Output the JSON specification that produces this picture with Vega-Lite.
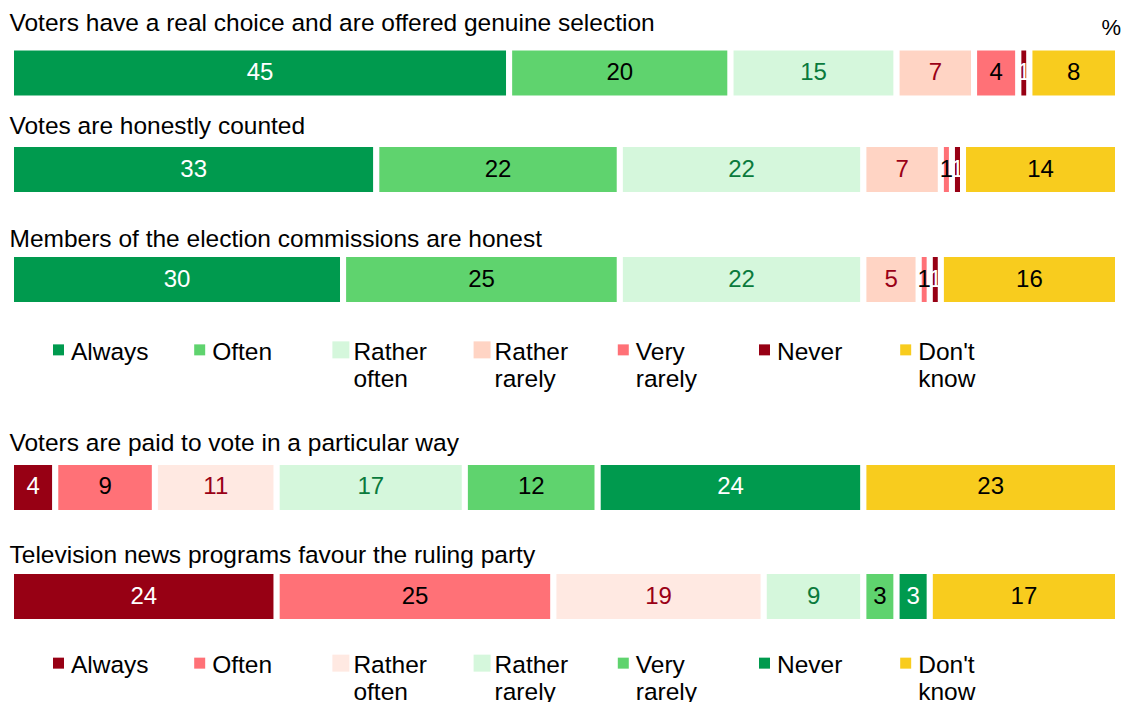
{
  "$schema": "https://vega.github.io/schema/vega-lite/v6.json",
  "background": "white",
  "padding": {"left": 8, "top": 10, "right": 0, "bottom": 0},
  "spacing": 0,
  "title": {"text": "%", "anchor": "end", "offset": -29.5, "dx": 0, "fontSize": 22},
  "config": {
    "font": "Liberation Sans",
    "view": {"stroke": null},
    "title": {"anchor": "start", "fontSize": 24.5, "fontWeight": "normal", "color": "#000000", "offset": 0, "dx": 1.5}
  },
  "resolve": {"scale": {"color": "independent", "x": "independent", "y": "independent"}},
  "datasets": {
    "bars": [
      {"q": "Voters have a real choice and are offered genuine selection", "cat": "Always", "v": 45, "i": 1},
      {"q": "Voters have a real choice and are offered genuine selection", "cat": "Often", "v": 20, "i": 2},
      {"q": "Voters have a real choice and are offered genuine selection", "cat": "Rather often", "v": 15, "i": 3},
      {"q": "Voters have a real choice and are offered genuine selection", "cat": "Rather rarely", "v": 7, "i": 4},
      {"q": "Voters have a real choice and are offered genuine selection", "cat": "Very rarely", "v": 4, "i": 5},
      {"q": "Voters have a real choice and are offered genuine selection", "cat": "Never", "v": 1, "i": 6},
      {"q": "Voters have a real choice and are offered genuine selection", "cat": "Don't know", "v": 8, "i": 7},
      {"q": "Votes are honestly counted", "cat": "Always", "v": 33, "i": 1},
      {"q": "Votes are honestly counted", "cat": "Often", "v": 22, "i": 2},
      {"q": "Votes are honestly counted", "cat": "Rather often", "v": 22, "i": 3},
      {"q": "Votes are honestly counted", "cat": "Rather rarely", "v": 7, "i": 4},
      {"q": "Votes are honestly counted", "cat": "Very rarely", "v": 1, "i": 5},
      {"q": "Votes are honestly counted", "cat": "Never", "v": 1, "i": 6},
      {"q": "Votes are honestly counted", "cat": "Don't know", "v": 14, "i": 7},
      {"q": "Members of the election commissions are honest", "cat": "Always", "v": 30, "i": 1},
      {"q": "Members of the election commissions are honest", "cat": "Often", "v": 25, "i": 2},
      {"q": "Members of the election commissions are honest", "cat": "Rather often", "v": 22, "i": 3},
      {"q": "Members of the election commissions are honest", "cat": "Rather rarely", "v": 5, "i": 4},
      {"q": "Members of the election commissions are honest", "cat": "Very rarely", "v": 1, "i": 5},
      {"q": "Members of the election commissions are honest", "cat": "Never", "v": 1, "i": 6},
      {"q": "Members of the election commissions are honest", "cat": "Don't know", "v": 16, "i": 7},
      {"q": "Voters are paid to vote in a particular way", "cat": "Always", "v": 4, "i": 1},
      {"q": "Voters are paid to vote in a particular way", "cat": "Often", "v": 9, "i": 2},
      {"q": "Voters are paid to vote in a particular way", "cat": "Rather often", "v": 11, "i": 3},
      {"q": "Voters are paid to vote in a particular way", "cat": "Rather rarely", "v": 17, "i": 4},
      {"q": "Voters are paid to vote in a particular way", "cat": "Very rarely", "v": 12, "i": 5},
      {"q": "Voters are paid to vote in a particular way", "cat": "Never", "v": 24, "i": 6},
      {"q": "Voters are paid to vote in a particular way", "cat": "Don't know", "v": 23, "i": 7},
      {"q": "Television news programs favour the ruling party", "cat": "Always", "v": 24, "i": 1},
      {"q": "Television news programs favour the ruling party", "cat": "Often", "v": 25, "i": 2},
      {"q": "Television news programs favour the ruling party", "cat": "Rather often", "v": 19, "i": 3},
      {"q": "Television news programs favour the ruling party", "cat": "Rather rarely", "v": 9, "i": 4},
      {"q": "Television news programs favour the ruling party", "cat": "Very rarely", "v": 3, "i": 5},
      {"q": "Television news programs favour the ruling party", "cat": "Never", "v": 3, "i": 6},
      {"q": "Television news programs favour the ruling party", "cat": "Don't know", "v": 17, "i": 7}
    ],
    "leg": [
      {"cat": "Always"}, {"cat": "Often"}, {"cat": "Rather often"}, {"cat": "Rather rarely"},
      {"cat": "Very rarely"}, {"cat": "Never"}, {"cat": "Don't know"}
    ]
  },
  "vconcat": [
    {
      "title": {"text": "Voters have a real choice and are offered genuine selection", "offset": 0},
      "width": 1107, "height": 78,
      "data": {"name": "bars"},
      "transform": [
        {"filter": {"field": "q", "equal": "Voters have a real choice and are offered genuine selection"}},
        {"stack": "v", "groupby": ["q"], "sort": [{"field": "i", "order": "ascending"}], "as": ["x0", "x1"]},
        {"calculate": "(datum.x0 + datum.x1) / 2", "as": "xm"}
      ],
      "encoding": {"y": {"field": "q", "type": "nominal", "axis": null, "scale": {"paddingInner": 0, "paddingOuter": 0.2647, "align": 0.426}}},
      "layer": [
        {"mark": {"type": "bar", "stroke": "white", "strokeWidth": 6},
         "encoding": {
           "x": {"field": "x0", "type": "quantitative", "axis": null, "scale": {"domain": [0, 100], "nice": false}},
           "x2": {"field": "x1"},
           "color": {"field": "cat", "type": "nominal", "legend": null, "scale": {"domain": ["Always", "Often", "Rather often", "Rather rarely", "Very rarely", "Never", "Don't know"], "range": ["#009A4E", "#5FD36E", "#D5F7DC", "#FFD4C4", "#FF7177", "#970014", "#F8CC1E"]}}}},
        {"mark": {"type": "text", "fontSize": 24, "baseline": "middle", "align": "center"},
         "encoding": {
           "x": {"field": "xm", "type": "quantitative"},
           "text": {"field": "v"},
           "color": {"condition": [
             {"test": "datum.cat === 'Always' || datum.cat === 'Never'", "value": "#ffffff"},
             {"test": "datum.cat === 'Rather often'", "value": "#0A7A3C"},
             {"test": "datum.cat === 'Rather rarely'", "value": "#9A0016"}], "value": "#000000"}}}
      ]
    },
    {
      "title": {"text": "Votes are honestly counted", "offset": 1.5},
      "width": 1107, "height": 84.5,
      "data": {"name": "bars"},
      "transform": [
        {"filter": {"field": "q", "equal": "Votes are honestly counted"}},
        {"stack": "v", "groupby": ["q"], "sort": [{"field": "i", "order": "ascending"}], "as": ["x0", "x1"]},
        {"calculate": "(datum.x0 + datum.x1) / 2", "as": "xm"}
      ],
      "encoding": {"y": {"field": "q", "type": "nominal", "axis": null, "scale": {"paddingInner": 0, "paddingOuter": 0.3284, "align": 0.0896}}},
      "layer": [
        {"mark": {"type": "bar", "stroke": "white", "strokeWidth": 6},
         "encoding": {
           "x": {"field": "x0", "type": "quantitative", "axis": null, "scale": {"domain": [0, 100], "nice": false}},
           "x2": {"field": "x1"},
           "color": {"field": "cat", "type": "nominal", "legend": null, "scale": {"domain": ["Always", "Often", "Rather often", "Rather rarely", "Very rarely", "Never", "Don't know"], "range": ["#009A4E", "#5FD36E", "#D5F7DC", "#FFD4C4", "#FF7177", "#970014", "#F8CC1E"]}}}},
        {"mark": {"type": "text", "fontSize": 24, "baseline": "middle", "align": "center"},
         "encoding": {
           "x": {"field": "xm", "type": "quantitative"},
           "text": {"field": "v"},
           "color": {"condition": [
             {"test": "datum.cat === 'Always' || datum.cat === 'Never'", "value": "#ffffff"},
             {"test": "datum.cat === 'Rather often'", "value": "#0A7A3C"},
             {"test": "datum.cat === 'Rather rarely'", "value": "#9A0016"}], "value": "#000000"}}}
      ]
    },
    {
      "title": {"text": "Members of the election commissions are honest", "offset": -1.5},
      "width": 1107, "height": 57,
      "data": {"name": "bars"},
      "transform": [
        {"filter": {"field": "q", "equal": "Members of the election commissions are honest"}},
        {"stack": "v", "groupby": ["q"], "sort": [{"field": "i", "order": "ascending"}], "as": ["x0", "x1"]},
        {"calculate": "(datum.x0 + datum.x1) / 2", "as": "xm"}
      ],
      "encoding": {"y": {"field": "q", "type": "nominal", "axis": null, "scale": {"paddingInner": 0, "paddingOuter": 0.0588, "align": 0.5}}},
      "layer": [
        {"mark": {"type": "bar", "stroke": "white", "strokeWidth": 6},
         "encoding": {
           "x": {"field": "x0", "type": "quantitative", "axis": null, "scale": {"domain": [0, 100], "nice": false}},
           "x2": {"field": "x1"},
           "color": {"field": "cat", "type": "nominal", "legend": null, "scale": {"domain": ["Always", "Often", "Rather often", "Rather rarely", "Very rarely", "Never", "Don't know"], "range": ["#009A4E", "#5FD36E", "#D5F7DC", "#FFD4C4", "#FF7177", "#970014", "#F8CC1E"]}}}},
        {"mark": {"type": "text", "fontSize": 24, "baseline": "middle", "align": "center"},
         "encoding": {
           "x": {"field": "xm", "type": "quantitative"},
           "text": {"field": "v"},
           "color": {"condition": [
             {"test": "datum.cat === 'Always' || datum.cat === 'Never'", "value": "#ffffff"},
             {"test": "datum.cat === 'Rather often'", "value": "#0A7A3C"},
             {"test": "datum.cat === 'Rather rarely'", "value": "#9A0016"}], "value": "#000000"}}}
      ]
    },
    {
      "width": 1107, "height": 120.5,
      "data": {"name": "leg"},
      "encoding": {
        "x": {"field": "cat", "type": "nominal", "axis": null, "sort": ["Always", "Often", "Rather often", "Rather rarely", "Very rarely", "Never", "Don't know"], "scale": {"type": "point", "padding": 0.92, "align": 0.1828}},
        "y": {"datum": "k", "type": "nominal", "axis": null, "scale": {"type": "band", "paddingInner": 0, "paddingOuter": 2.5125, "align": 0.2587}}
      },
      "layer": [
        {"mark": {"type": "square", "filled": true, "opacity": 1},
         "encoding": {
           "color": {"field": "cat", "type": "nominal", "legend": null, "scale": {"domain": ["Always", "Often", "Rather often", "Rather rarely", "Very rarely", "Never", "Don't know"], "range": ["#009A4E", "#5FD36E", "#D5F7DC", "#FFD4C4", "#FF7177", "#970014", "#F8CC1E"]}},
           "size": {"condition": {"test": "indexof(datum.cat, 'Rather') >= 0", "value": 289}, "value": 121}}},
        {"mark": {"type": "text", "align": "left", "baseline": "alphabetic", "dx": 12.5, "dy": 10, "fontSize": 24.5, "lineBreak": " ", "lineHeight": 27, "color": "#000000"},
         "encoding": {"text": {"field": "cat"}}}
      ]
    },
    {
      "title": {"text": "Voters are paid to vote in a particular way", "offset": 2.5},
      "width": 1107, "height": 82.5,
      "data": {"name": "bars"},
      "transform": [
        {"filter": {"field": "q", "equal": "Voters are paid to vote in a particular way"}},
        {"stack": "v", "groupby": ["q"], "sort": [{"field": "i", "order": "ascending"}], "as": ["x0", "x1"]},
        {"calculate": "(datum.x0 + datum.x1) / 2", "as": "xm"}
      ],
      "encoding": {"y": {"field": "q", "type": "nominal", "axis": null, "scale": {"paddingInner": 0, "paddingOuter": 0.3088, "align": 0.0952}}},
      "layer": [
        {"mark": {"type": "bar", "stroke": "white", "strokeWidth": 6},
         "encoding": {
           "x": {"field": "x0", "type": "quantitative", "axis": null, "scale": {"domain": [0, 100], "nice": false}},
           "x2": {"field": "x1"},
           "color": {"field": "cat", "type": "nominal", "legend": null, "scale": {"domain": ["Always", "Often", "Rather often", "Rather rarely", "Very rarely", "Never", "Don't know"], "range": ["#970014", "#FF7177", "#FFE9E2", "#D5F7DC", "#5FD36E", "#009A4E", "#F8CC1E"]}}}},
        {"mark": {"type": "text", "fontSize": 24, "baseline": "middle", "align": "center"},
         "encoding": {
           "x": {"field": "xm", "type": "quantitative"},
           "text": {"field": "v"},
           "color": {"condition": [
             {"test": "datum.cat === 'Always' || datum.cat === 'Never'", "value": "#ffffff"},
             {"test": "datum.cat === 'Rather often'", "value": "#9A0016"},
             {"test": "datum.cat === 'Rather rarely'", "value": "#0A7A3C"}], "value": "#000000"}}}
      ]
    },
    {
      "title": {"text": "Television news programs favour the ruling party", "offset": -0.5},
      "width": 1107, "height": 57,
      "data": {"name": "bars"},
      "transform": [
        {"filter": {"field": "q", "equal": "Television news programs favour the ruling party"}},
        {"stack": "v", "groupby": ["q"], "sort": [{"field": "i", "order": "ascending"}], "as": ["x0", "x1"]},
        {"calculate": "(datum.x0 + datum.x1) / 2", "as": "xm"}
      ],
      "encoding": {"y": {"field": "q", "type": "nominal", "axis": null, "scale": {"paddingInner": 0, "paddingOuter": 0.0588, "align": 0.5}}},
      "layer": [
        {"mark": {"type": "bar", "stroke": "white", "strokeWidth": 6},
         "encoding": {
           "x": {"field": "x0", "type": "quantitative", "axis": null, "scale": {"domain": [0, 100], "nice": false}},
           "x2": {"field": "x1"},
           "color": {"field": "cat", "type": "nominal", "legend": null, "scale": {"domain": ["Always", "Often", "Rather often", "Rather rarely", "Very rarely", "Never", "Don't know"], "range": ["#970014", "#FF7177", "#FFE9E2", "#D5F7DC", "#5FD36E", "#009A4E", "#F8CC1E"]}}}},
        {"mark": {"type": "text", "fontSize": 24, "baseline": "middle", "align": "center"},
         "encoding": {
           "x": {"field": "xm", "type": "quantitative"},
           "text": {"field": "v"},
           "color": {"condition": [
             {"test": "datum.cat === 'Always' || datum.cat === 'Never'", "value": "#ffffff"},
             {"test": "datum.cat === 'Rather often'", "value": "#9A0016"},
             {"test": "datum.cat === 'Rather rarely'", "value": "#0A7A3C"}], "value": "#000000"}}}
      ]
    },
    {
      "width": 1107, "height": 77,
      "data": {"name": "leg"},
      "encoding": {
        "x": {"field": "cat", "type": "nominal", "axis": null, "sort": ["Always", "Often", "Rather often", "Rather rarely", "Very rarely", "Never", "Don't know"], "scale": {"type": "point", "padding": 0.92, "align": 0.1828}},
        "y": {"datum": "k", "type": "nominal", "axis": null, "scale": {"type": "band", "paddingInner": 0, "paddingOuter": 1.425, "align": 0.4737}}
      },
      "layer": [
        {"mark": {"type": "square", "filled": true, "opacity": 1},
         "encoding": {
           "color": {"field": "cat", "type": "nominal", "legend": null, "scale": {"domain": ["Always", "Often", "Rather often", "Rather rarely", "Very rarely", "Never", "Don't know"], "range": ["#970014", "#FF7177", "#FFE9E2", "#D5F7DC", "#5FD36E", "#009A4E", "#F8CC1E"]}},
           "size": {"condition": {"test": "indexof(datum.cat, 'Rather') >= 0", "value": 289}, "value": 121}}},
        {"mark": {"type": "text", "align": "left", "baseline": "alphabetic", "dx": 12.5, "dy": 10, "fontSize": 24.5, "lineBreak": " ", "lineHeight": 27, "color": "#000000"},
         "encoding": {"text": {"field": "cat"}}}
      ]
    }
  ]
}
